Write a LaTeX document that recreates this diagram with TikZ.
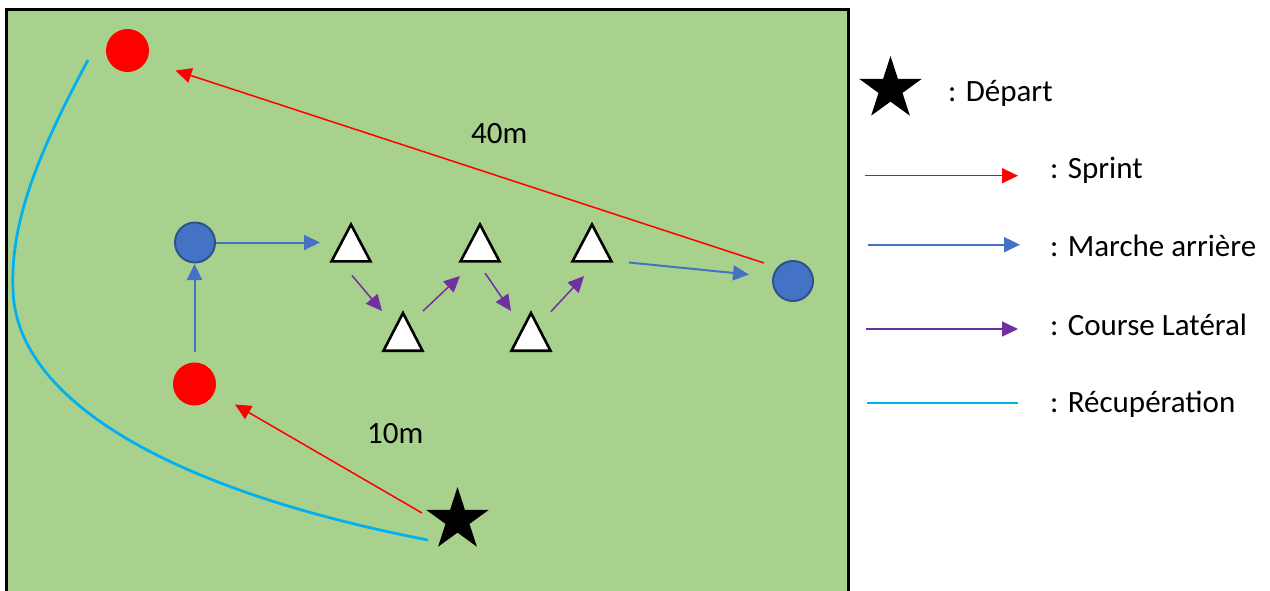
\documentclass[tikz,border=0pt]{standalone}
\usepackage{fontspec}
\setmainfont{Carlito}
\usetikzlibrary{arrows.meta,shapes.geometric}
\definecolor{field}{HTML}{A9D18E}
\definecolor{sprintred}{HTML}{FF0000}
\definecolor{walkblue}{HTML}{4472C4}
\definecolor{walkedge}{HTML}{2F528F}
\definecolor{latpurple}{HTML}{7030A0}
\definecolor{recup}{HTML}{00B0F0}
\begin{document}
\begin{tikzpicture}[x=1pt,y=-1pt,
  redcone/.style={circle,fill=sprintred,draw=none,minimum size=43pt,inner sep=0pt},
  bluecone/.style={circle,fill=walkblue,draw=walkedge,line width=2pt,minimum size=40pt,inner sep=0pt},
  startstar/.style={star,star points=5,star point ratio=2.618,fill=black,draw=none,minimum size=66pt,inner sep=0pt},
  sprintarrow/.style={draw=sprintred,line width=1.5pt,-{Triangle[length=16pt,width=15pt]}},
  walkarrow/.style={draw=walkblue,line width=2pt,-{Triangle[length=16pt,width=15pt]}},
  latarrow/.style={draw=latpurple,line width=1.5pt,-{Triangle[length=16pt,width=15pt]}},
  recupline/.style={draw=recup,line width=2.75pt},
  conetri/.style={draw=black,fill=white,line width=2.6pt},
  label/.style={anchor=base west,inner sep=0pt,font=\fontsize{31}{37}\selectfont}]
\useasboundingbox (0,0) rectangle (1270,590);
% field
\draw[fill=field,draw=black,line width=3pt] (6.3,9.5) rectangle (848.3,640);

% cones
\node[redcone] (rc1) at (127.5,50.5) {};
\node[redcone] (rc2) at (194.5,384) {};
\node[bluecone] (bc1) at (195,242.5) {};
\node[bluecone] (bc2) at (793,281) {};
\node[startstar] (st) at (457.5,520) {};

% triangles (cones)
\foreach \n/\cx/\ay/\by in {t1/351/224.5/261.4, t2/480/224.5/261.4, t3/592/224.5/261.4, t4/403/313/350.7, t5/531/313/350.7}{
  \draw[conetri] (\cx-19.5,\by) -- (\cx,\ay) -- (\cx+19.5,\by) -- cycle;
}

% connector end points
\coordinate (s10a) at (422,513);
\coordinate (s10b) at (235,404.5);
\coordinate (s40a) at (764,263);
\coordinate (s40b) at (175.5,70.5);
\coordinate (b1a) at (194.5,352);
\coordinate (b1b) at (194.5,264);
\coordinate (b2b) at (320,242.5);
\coordinate (b3a) at (629,262.5);
\coordinate (b3b) at (749,274.5);
\coordinate (p1a) at (352,275.5);
\coordinate (p1b) at (382,311);
\coordinate (p2a) at (423,311);
\coordinate (p2b) at (460,276);
\coordinate (p3a) at (485,273);
\coordinate (p3b) at (511,311);
\coordinate (p4a) at (551,311.5);
\coordinate (p4b) at (584,276);
\coordinate (r1) at (88,60);
\coordinate (r2) at (13,290);
\coordinate (r3) at (428,540);

% sprint
\draw[sprintarrow] (s10a) -- (s10b);
\draw[sprintarrow] (s40a) -- (s40b);
% marche arriere
\draw[walkarrow] (b1a) -- (b1b);
\draw[walkarrow] (bc1.east) -- (b2b);
\draw[walkarrow] (b3a) -- (b3b);
% course laterale
\draw[latarrow] (p1a) -- (p1b);
\draw[latarrow] (p2a) -- (p2b);
\draw[latarrow] (p3a) -- (p3b);
\draw[latarrow] (p4a) -- (p4b);
% recuperation
\draw[recupline] (r1) .. controls (40,150) and (10,220) .. (r2) .. controls (16,400) and (170,490) .. (r3);

% distance labels
\node[label] (d40) at (471,143.3) {40m};
\node[label] (d10) at (367,443) {10m};

% legend
\node[startstar] (lstar) at (890.5,89) {};
\node[label] (tdep) at (948,101.7) {: Départ};
\coordinate (l1a) at (865,175.7);
\coordinate (l1b) at (1018,175.7);
\coordinate (l2a) at (868,244.7);
\coordinate (l2b) at (1020,244.7);
\coordinate (l3a) at (866,329);
\coordinate (l3b) at (1018,329);
\coordinate (l4a) at (867,403.3);
\coordinate (l4b) at (1018,403.3);
\draw[sprintarrow] (l1a) -- (l1b);
\draw[walkarrow] (l2a) -- (l2b);
\draw[latarrow] (l3a) -- (l3b);
\draw[draw=recup,line width=2pt] (l4a) -- (l4b);
\node[label] (tspr) at (1050,178) {: Sprint};
\node[label] (tmar) at (1050,256.7) {: Marche arrière};
\node[label] (tcou) at (1050,335) {: Course Latéral};
\node[label] (trec) at (1050,412.7) {: Récupération};
\end{tikzpicture}
\end{document}
